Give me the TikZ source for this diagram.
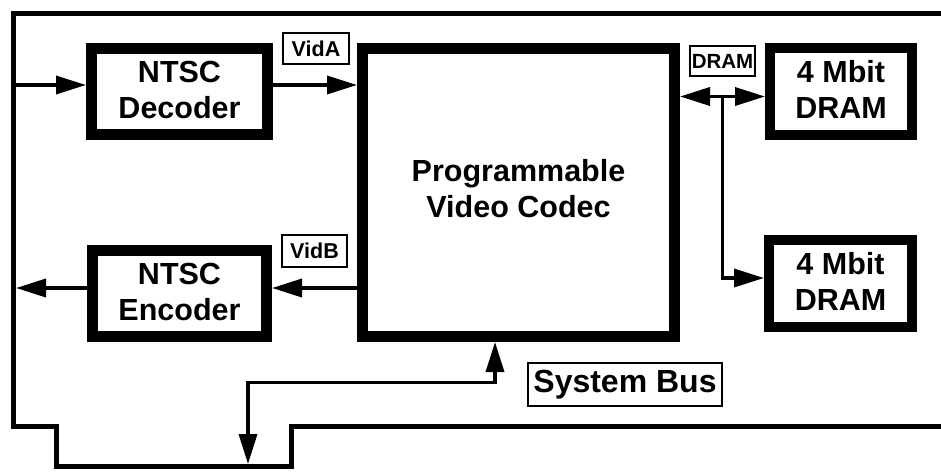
\documentclass[tikz,border=0pt]{standalone}
\usepackage{fontspec}
\setmainfont{Liberation Sans}
\usetikzlibrary{arrows.meta}
\begin{document}
\begin{tikzpicture}[x=1pt,y=-1pt,
  >={Triangle[length=30pt,width=18pt]},
  unit/.style={draw,line width=11pt,inner sep=0pt,align=center,
    text height=58pt,text depth=4pt,
    font=\bfseries\fontsize{30.5}{36}\selectfont},
  memunit/.style={unit,line width=10pt},
  tag/.style={draw,line width=2pt,inner sep=0pt,
    font=\bfseries\fontsize{21.5}{24}\selectfont},
  board/.style={line width=5pt,line join=miter},
  link/.style={line width=3.5pt}]

% page frame
\fill[white] (0,0) rectangle (941,471);
\useasboundingbox (0,0) rectangle (941,471);

% board outline with the edge connector notch
\draw[board] (941,13.5) -- (13.5,13.5) -- (13.5,426.5) -- (56,426.5)
  -- (56,466.5) -- (291,466.5) -- (291,426.5) -- (941,426.5);

% functional blocks
\node[unit,minimum width=176pt,minimum height=86pt] (dec) at (179.5,91.5) {NTSC\\Decoder};
\node[unit,minimum width=174pt,minimum height=86pt] (enc) at (179.5,293.5) {NTSC\\Encoder};
\node[unit,minimum width=312pt,minimum height=288pt,text depth=9pt] (codec) at (518.5,192.5)
  {Programmable\\Video Codec};
\node[memunit,minimum width=142pt,minimum height=87pt] (dram1) at (841,91.5) {4 Mbit\\DRAM};
\node[memunit,minimum width=143pt,minimum height=87pt] (dram2) at (840.5,283.5) {4 Mbit\\DRAM};

% bus labels
\node[tag,minimum width=66pt,minimum height=31pt] (vida) at (316,48.5) {VidA};
\node[tag,minimum width=65pt,minimum height=32pt] (vidb) at (314.5,251) {VidB};
\node[tag,minimum width=65pt,minimum height=30pt,font=\bfseries\fontsize{20.5}{22}\selectfont]
  (dramtag) at (722.5,61) {DRAM};
\node[tag,minimum width=194pt,minimum height=43pt,font=\bfseries\fontsize{32}{36}\selectfont]
  (sysbus) at (625,384.5) {System Bus};

% connection points
\coordinate (inL) at (13.5,85);
\coordinate (outL) at (16,288);
\coordinate (dj) at (722.5,96.5);
\coordinate (dj2) at (722.5,278);
\coordinate (busT) at (495,382.5);
\coordinate (busC) at (248,382.5);
\coordinate (busL) at (248,464);

% video path
\draw[link,->] (inL) -- (inL -| dec.west);
\draw[link,->] (dec.east |- inL) -- (codec.west |- inL);
\draw[link,->] (codec.west |- outL) -- (enc.east |- outL);
\draw[link,->] (enc.west |- outL) -- (outL);

% memory bus
\draw[link,<->] (codec.east |- dj) -- (dram1.west |- dj);
\draw[link,->] (dj) -- (dj2) -- (dj2 -| dram2.west);

% system bus to the edge connector
\draw[link,<->,line join=miter] (codec.south -| busT) -- (busT) -- (busC) -- (busL);
\end{tikzpicture}
\end{document}
